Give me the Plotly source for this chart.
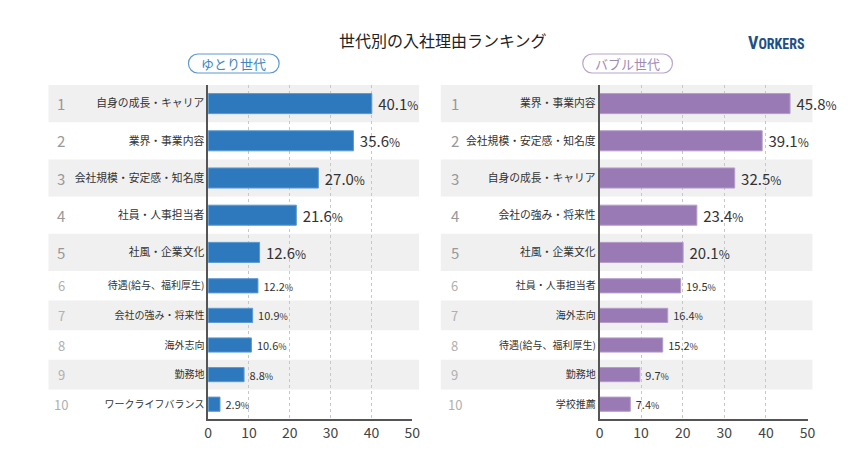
import plotly.graph_objects as go

PAGE_W, PAGE_H = 859, 472
OFF = 8  # page body margin offset
W, H = PAGE_W - 2 * OFF, PAGE_H - 2 * OFF

# ---- data ----
title_text = "世代別の入社理由ランキング"
left_name = "ゆとり世代"
right_name = "バブル世代"
left_cats = ["自身の成長・キャリア", "業界・事業内容", "会社規模・安定感・知名度", "社員・人事担当者", "社風・企業文化",
             "待遇(給与、福利厚生)", "会社の強み・将来性", "海外志向", "勤務地", "ワークライフバランス"]
left_vals = [40.1, 35.6, 27.0, 21.6, 12.6, 12.2, 10.9, 10.6, 8.8, 2.9]
right_cats = ["業界・事業内容", "会社規模・安定感・知名度", "自身の成長・キャリア", "会社の強み・将来性", "社風・企業文化",
              "社員・人事担当者", "海外志向", "待遇(給与、福利厚生)", "勤務地", "学校推薦"]
right_vals = [45.8, 39.1, 32.5, 23.4, 20.1, 19.5, 16.4, 15.2, 9.7, 7.4]
ranks = [str(i) for i in range(1, 11)]
x_ticks = [0, 10, 20, 30, 40, 50]

FONT = "Noto Sans CJK JP"
BLUE = "#2e79bd"
PURPLE = "#9a7ab4"
BAND = "#f0f0f0"


def px(x):
    return (x - OFF) / W


def py(y):
    return 1 - (y - OFF) / H


# layout geometry (target pixels)
top_y0, mid_y, bot_y1 = 85, 271, 419
panels = [
    dict(vals=left_vals, cats=left_cats, color=BLUE, line="#5c9bd3", x0=207, x1=414, band=(45, 421), rank_x=58,
         pill=(187, 279), pill_text=left_name, pill_color="#3d87c6", pill_border="#5d9ad0"),
    dict(vals=right_vals, cats=right_cats, color=PURPLE, line="#b59ccb", x0=604, x1=815, band=(443, 820), rank_x=457,
         pill=(587, 678), pill_text=right_name, pill_color="#a08ab8", pill_border="#b8a6cc"),
]

fig = go.Figure()
shapes = []
annotations = []
layout = {}

ax = 0
for p in panels:
    for part in range(2):
        ax += 1
        sl = slice(0, 5) if part == 0 else slice(5, 10)
        cats = p["cats"][sl]
        vals = p["vals"][sl]
        xa = "x" if ax == 1 else f"x{ax}"
        ya = "y" if ax == 1 else f"y{ax}"
        big = part == 0
        fs = 15 if big else 11
        pfs = 12 if big else 9
        fig.add_trace(go.Bar(
            x=vals, y=cats, orientation="h", xaxis=xa, yaxis=ya,
            marker=dict(color=p["color"], line=dict(color=p["line"], width=1)),
            width=0.54 if big else 0.48,
            text=vals,
            texttemplate=" %{x:.1f}<span style='font-size:" + str(pfs) + "px'>%</span>",
            textposition="outside", cliponaxis=False, constraintext="none",
            textfont=dict(family=FONT, size=fs, color="#333333"),
            hoverinfo="skip", showlegend=False,
        ))
        ydom = [py(mid_y), py(top_y0)] if big else [py(bot_y1), py(mid_y)]
        layout["xaxis" if ax == 1 else f"xaxis{ax}"] = dict(
            domain=[px(p["x0"]), px(p["x1"])], range=[0, 50], anchor=ya,
            tickvals=x_ticks, showticklabels=not big,
            tickfont=dict(family=FONT, size=14, color="#444444"),
            showgrid=True, gridcolor="#c8c8c8", griddash="dot", gridwidth=1,
            zeroline=False, showline=not big, linecolor="#555555", linewidth=1.5,
            ticks="", fixedrange=True,
        )
        layout["yaxis" if ax == 1 else f"yaxis{ax}"] = dict(
            domain=ydom, anchor=xa, type="category",
            categoryorder="array", categoryarray=cats, range=[4.5, -0.5],
            tickfont=dict(family=FONT, size=10.8 if big else 10, color="#333333"),
            showline=True, linecolor="#555555", linewidth=1.5,
            showgrid=False, zeroline=False, ticks="", ticklabelstandoff=0, fixedrange=True,
        )
        for i in range(5):
            r = (0 if big else 5) + i
            if r % 2 == 0:
                shapes.append(dict(type="rect", xref="paper", yref=ya, x0=px(p["band"][0]), x1=px(p["band"][1]),
                                   y0=i - 0.5, y1=i + 0.5, fillcolor=BAND, line=dict(width=0), layer="below"))
            annotations.append(dict(text=ranks[r], xref="paper", yref=ya, x=px(p["rank_x"]), y=i,
                                    showarrow=False, xanchor="center", yanchor="middle",
                                    font=dict(family=FONT, size=15 if big else 13,
                                              color="#999999" if big else "#b0b0b0")))
    # pill
    a, b = p["pill"]
    t, bt = 54, 73
    rr = (bt - t) / 2
    path = (f"M {px(a + rr)} {py(t)} L {px(b - rr)} {py(t)} "
            f"C {px(b - rr + rr * 0.55)} {py(t)} {px(b)} {py(t + rr * 0.45)} {px(b)} {py(t + rr)} "
            f"C {px(b)} {py(bt - rr * 0.45)} {px(b - rr + rr * 0.55)} {py(bt)} {px(b - rr)} {py(bt)} "
            f"L {px(a + rr)} {py(bt)} "
            f"C {px(a + rr - rr * 0.55)} {py(bt)} {px(a)} {py(bt - rr * 0.45)} {px(a)} {py(t + rr)} "
            f"C {px(a)} {py(t + rr * 0.45)} {px(a + rr - rr * 0.55)} {py(t)} {px(a + rr)} {py(t)} Z")
    shapes.append(dict(type="path", xref="paper", yref="paper", path=path,
                       line=dict(color=p["pill_border"], width=1.2), fillcolor="white"))
    annotations.append(dict(text=p["pill_text"], xref="paper", yref="paper", x=px((a + b) / 2), y=py((t + bt) / 2),
                            showarrow=False, xanchor="center", yanchor="middle",
                            font=dict(family=FONT, size=13, color=p["pill_color"])))

annotations.append(dict(text=title_text, xref="paper", yref="paper", x=px(445), y=py(40), showarrow=False,
                        xanchor="center", yanchor="middle", font=dict(family=FONT, size=16, color="#222222")))
annotations.append(dict(text="<b>V<span style='font-size:14px'>ORKERS</span></b>", xref="paper", yref="paper",
                        x=px(784), y=py(42), showarrow=False, xanchor="center", yanchor="middle",
                        font=dict(family="Roboto Condensed, Roboto, sans-serif", size=18, color="#1e4f86")))

fig.update_layout(
    width=W, height=H, margin=dict(l=0, r=0, t=0, b=0),
    paper_bgcolor="white", plot_bgcolor="rgba(0,0,0,0)",
    shapes=shapes, annotations=annotations, bargap=0.4,
    font=dict(family=FONT), showlegend=False,
    **layout,
)

fig.write_html("out.html")
